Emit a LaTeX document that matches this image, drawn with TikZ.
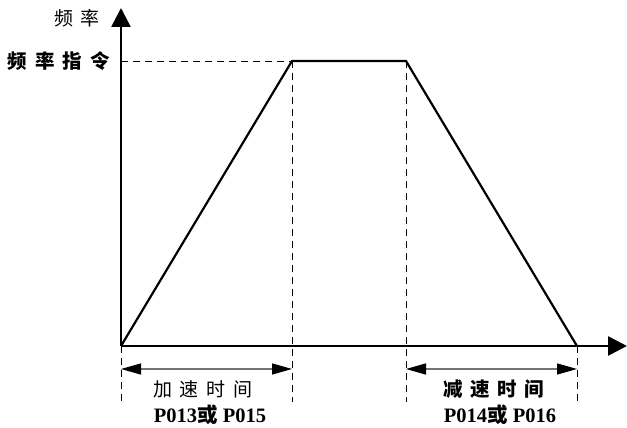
\documentclass[tikz,border=0pt]{standalone}
\usepackage{fontspec}
\setmainfont{Liberation Serif}
\newfontfamily\cjk{Noto Sans CJK SC}
\usetikzlibrary{arrows.meta}
\begin{document}
\begin{tikzpicture}[x=1pt,y=-1pt,
  axis/.style={line width=2.6pt,-{Triangle[length=19pt,width=19pt]}},
  curve/.style={line width=2.2pt,line join=miter},
  guide/.style={line width=0.8pt,dash pattern=on 7pt off 5pt},
  dim/.style={line width=1.4pt,draw=black!55,{Triangle[length=20pt,width=11pt,black]}-{Triangle[length=20pt,width=11pt,black]}},
  lbl/.style={font=\fontsize{19}{21}\selectfont\cjk,inner sep=0pt},
  blbl/.style={font=\fontsize{19.5}{21}\selectfont\cjk\bfseries,inner sep=0pt},
  plbl/.style={font=\fontsize{20.5}{22}\selectfont\bfseries,inner sep=0pt}]
\useasboundingbox (0,0) rectangle (627,428);
\coordinate (O) at (121,346);
\coordinate (ytop) at (121,8);
\coordinate (xend) at (627,346);
\coordinate (A) at (292,61);
\coordinate (B) at (406,61);
\coordinate (C) at (577,346);
\coordinate (Ay) at (121,61);
\coordinate (Ob) at (121,402);
\coordinate (Ab) at (292,402);
\coordinate (Bb) at (406,402);
\coordinate (Cb) at (577,402);
\coordinate (d1) at (121,369);
\coordinate (d2) at (292,369);
\coordinate (d3) at (406,369);
\coordinate (d4) at (577,369);
% guides
\draw[guide] (Ay) -- (A);
\draw[guide] (A) -- (Ab);
\draw[guide] (B) -- (Bb);
\draw[guide] (O) -- (Ob);
\draw[guide] (C) -- (Cb);
% axes
\draw[axis] (O) -- (ytop);
\draw[axis] (O) -- (xend);
% trapezoid
\draw[curve] (O) -- (A) -- (B) -- (C);
% dimension arrows
\draw[dim] (d1) -- (d2);
\draw[dim] (d3) -- (d4);
% labels
\node[lbl] (fy) at (77,18) {频\hspace{7pt}率};
\node[blbl] (fz) at (59,61) {频\hspace{8pt}率\hspace{8pt}指\hspace{8pt}令};
\node[lbl] (acc) at (203,389) {加\hspace{8pt}速\hspace{8pt}时\hspace{8pt}间};
\node[blbl] (dec) at (494,389) {减\hspace{7.5pt}速\hspace{7.5pt}时\hspace{7.5pt}间};
\node[plbl] (p1) at (210,415) {P013{\cjk 或} P015};
\node[plbl] (p2) at (500,415) {P014{\cjk 或} P016};
\end{tikzpicture}
\end{document}
